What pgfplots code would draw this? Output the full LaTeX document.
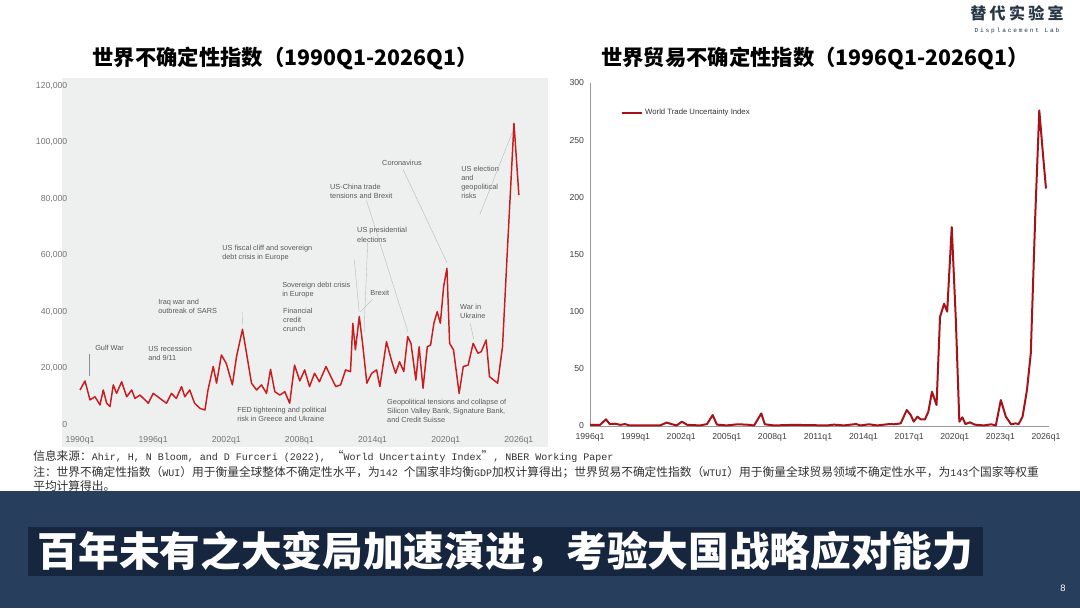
\documentclass[border=0pt]{standalone}
\usepackage{fontspec}
\setmainfont{Liberation Sans}
\setmonofont{Liberation Mono}
\newfontfamily\cjk{Noto Sans CJK SC}
\usepackage{pgfplots}
\pgfplotsset{compat=1.18}
\definecolor{band}{RGB}{39,62,92}
\definecolor{bandbox}{RGB}{22,38,62}
\definecolor{leftbg}{RGB}{238,240,240}
\definecolor{wuired}{RGB}{200,28,30}
\definecolor{wtured}{RGB}{165,18,24}
\definecolor{logo}{RGB}{40,55,70}
\definecolor{notec}{RGB}{50,50,50}
\newcommand\C[1]{{\cjk\fontsize{8.8}{10}\selectfont #1}}
\pgfplotstableread{
x y
1990.00 12400
1990.41 15600
1990.82 8900
1991.23 10000
1991.64 7100
1991.91 12400
1992.19 7700
1992.46 6500
1992.73 14200
1993.00 11200
1993.42 15300
1993.83 10000
1994.24 12400
1994.51 9400
1994.92 10600
1995.33 8900
1995.60 7700
1996.01 11200
1996.56 9400
1997.10 7700
1997.50 11200
1997.90 9400
1998.33 13600
1998.60 10000
1999.00 12400
1999.40 7700
1999.84 5900
2000.25 5300
2000.50 12400
2000.93 20700
2001.20 14800
2001.60 24800
2002.00 21800
2002.50 14200
2002.84 24200
2003.33 33900
2003.66 25400
2004.07 14800
2004.48 12400
2004.89 14200
2005.30 11200
2005.63 19700
2005.98 11800
2006.39 10600
2006.80 11800
2007.20 7700
2007.60 21200
2008.03 15600
2008.43 19500
2008.83 13600
2009.24 18300
2009.64 15300
2010.18 20700
2010.58 17100
2010.98 13600
2011.38 14200
2011.79 19500
2012.19 18900
2012.38 36000
2012.59 26600
2012.91 38400
2013.18 28900
2013.53 14800
2013.93 18300
2014.33 19500
2014.60 13600
2015.14 29500
2015.54 23000
2015.89 18300
2016.21 22400
2016.56 18900
2016.88 31300
2017.15 28900
2017.55 15900
2017.82 27700
2018.14 13000
2018.49 27700
2018.76 28300
2019.03 36000
2019.30 40100
2019.56 36000
2019.83 49000
2020.10 55500
2020.32 28900
2020.64 26600
2021.10 11200
2021.44 20700
2021.84 21200
2022.25 28900
2022.65 25400
2022.92 26000
2023.32 30100
2023.59 17100
2024.26 14800
2024.66 27700
2025.06 62000
2025.60 106800
2026.00 81400
}\wui
\pgfplotstableread{
x y
1996.00 1
1996.66 1
1997.05 5.8
1997.30 1.7
1997.65 2
1998.00 1
1998.30 1.7
1998.60 0.5
2000.60 0.5
2001.05 3
2001.40 1.5
2001.70 0.5
2002.05 3.8
2002.40 1
2003.25 0.5
2003.70 1.7
2004.07 9.6
2004.35 1.2
2005.00 0.5
2005.70 1.5
2006.30 1.2
2006.80 0.5
2007.27 11
2007.50 1.5
2008.10 0.5
2009.40 1
2011.60 0.5
2012.05 1.2
2012.70 0.5
2013.50 1.7
2013.80 0.5
2014.35 1.5
2014.90 0.5
2015.70 1.7
2016.00 1.5
2016.44 2.3
2016.84 14
2017.10 9.6
2017.30 3.8
2017.54 8.2
2017.76 5.8
2018.04 5.8
2018.26 12.5
2018.50 30
2018.80 18.4
2019.03 95.5
2019.30 107
2019.50 100
2019.80 174
2020.07 92.6
2020.30 3.8
2020.50 7.6
2020.70 1.7
2021.00 3.2
2021.30 1.2
2021.90 0.5
2022.40 1.5
2022.70 0.5
2023.03 22.7
2023.36 8.2
2023.70 1.5
2024.00 2.3
2024.20 1.7
2024.46 8.2
2024.75 31.5
2025.00 63.5
2025.30 186
2025.56 276
2025.80 238
2026.00 207.7
}\wtui
\begin{document}
\begin{tikzpicture}[
  anno/.style={font=\fontsize{5.5}{6.8}\selectfont, text=black!65, inner sep=0pt, anchor=west, align=left},
  lead/.style={black!28, line width=0.3pt}]
\begin{scope}[x=0.75pt,y=0.75pt]
\path[use as bounding box, fill=white] (0,0) rectangle (1080,608);
% logo
\node[text=logo, inner sep=0pt] at (1017,595) {\cjk\bfseries\fontsize{12}{12}\selectfont 替\hspace{2.5pt}代\hspace{2.5pt}实\hspace{2.5pt}验\hspace{2.5pt}室};
\node[text=logo, inner sep=0pt] at (1017,577) {\ttfamily\fontsize{4.6}{5}\selectfont\addfontfeatures{LetterSpace=30}Displacement Lab};
% titles
\node[inner sep=0pt] at (285,550) {\cjk\bfseries\fontsize{16}{16}\selectfont 世界不确定性指数（1990Q1-2026Q1）};
\node[inner sep=0pt] at (815,550) {\cjk\bfseries\fontsize{16}{16}\selectfont 世界贸易不确定性指数（1996Q1-2026Q1）};
% left background
\fill[leftbg] (62,161) rectangle (548,530);
\end{scope}
\begin{axis}[at={(54pt,133.5pt)}, anchor=south west, scale only axis,
  width=343.5pt, height=262.5pt,
  xmin=1989.344, xmax=2026.915, ymin=-1770, ymax=122124,
  axis line style={draw=none}, major tick length=0pt,
  xtick={1990,1996,2002,2008,2014,2020,2026},
  xticklabels={1990q1,1996q1,2002q1,2008q1,2014q1,2020q1,2026q1},
  ytick={0,20000,40000,60000,80000,100000,120000},
  yticklabels={0,{20,000},{40,000},{60,000},{80,000},{100,000},{120,000}},
  scaled y ticks=false,
  tick label style={font=\fontsize{6.5}{7}\selectfont, text=black!55},
  xticklabel style={yshift=-1pt},
  clip=false]
\draw[lead] (axis cs:2003.3,40000) -- (axis cs:2003.33,35500);
\draw[lead] (axis cs:2012.5,58500) -- (axis cs:2012.9,40000);
\draw[lead] (axis cs:2014.0,44500) -- (axis cs:2013.0,40000);
\draw[lead] (axis cs:2013.5,79500) -- (axis cs:2016.9,33000);
\draw[lead] (axis cs:2013.6,64500) -- (axis cs:2013.3,33000);
\draw[lead] (axis cs:2016.5,90500) -- (axis cs:2020.1,57500);
\draw[lead] (axis cs:2022.8,74500) -- (axis cs:2025.5,104000);
\draw[lead] (axis cs:2022.0,36000) -- (axis cs:2022.3,30500);
\addplot[wuired, line width=1.1pt, line join=round] table[x=x,y=y] {\wui};
\node[anno] at (axis cs:1991.23,27300) {Gulf War};
\draw[black!45, line width=0.3pt] (axis cs:1990.75,25000) -- (axis cs:1990.75,17500);
\node[anno] at (axis cs:1995.58,25500) {US recession\\and 9/11};
\node[anno] at (axis cs:1996.4,42100) {Iraq war and\\outbreak of SARS};
\node[anno] at (axis cs:2001.65,60700) {US fiscal cliff and sovereign\\debt crisis in Europe};
\node[anno] at (axis cs:2006.57,47800) {Sovereign debt crisis\\in Europe};
\node[anno] at (axis cs:2006.65,37200) {Financial\\credit\\crunch};
\node[anno] at (axis cs:2002.88,3900) {FED tightening and political\\risk in Greece and Ukraine};
\node[anno] at (axis cs:2013.8,46700) {Brexit};
\node[anno] at (axis cs:2012.72,67300) {US presidential\\elections};
\node[anno] at (axis cs:2010.5,82800) {US-China trade\\tensions and Brexit};
\node[anno] at (axis cs:2014.77,92700) {Coronavirus};
\node[anno] at (axis cs:2021.26,85800) {US election\\and\\geopolitical\\risks};
\node[anno] at (axis cs:2021.17,40200) {War in\\Ukraine};
\node[anno] at (axis cs:2015.18,5000) {Geopolitical tensions and collapse of\\Silicon Valley Bank, Signature Bank,\\and Credit Suisse};
\end{axis}
% right chart
\begin{axis}[at={(442.5pt,136.5pt)}, anchor=south west, scale only axis,
  width=344.25pt, height=257.25pt,
  xmin=1996, xmax=2026.2, ymin=0, ymax=300,
  axis x line=bottom, axis y line=left,
  axis line style={black!40, -, line width=0.5pt}, major tick length=0pt,
  xtick={1996,1999,2002,2005,2008,2011,2014,2017,2020,2023,2026},
  xticklabels={1996q1,1999q1,2002q1,2005q1,2008q1,2011q1,2014q1,2017q1,2020q1,2023q1,2026q1},
  ytick={0,50,100,150,200,250,300},
  yticklabels={0,50,100,150,200,250,300},
  tick label style={font=\fontsize{6.5}{7}\selectfont, text=black!75},
  xticklabel style={yshift=-2pt},
  yticklabel style={xshift=-1pt},
  clip=false,
  legend style={at={(0.066,0.912)}, anchor=west, draw=none, fill=none,
    font=\fontsize{5.8}{7}\selectfont, inner sep=0pt, text=black!80},
  legend image code/.code={\draw[#1] (0pt,0pt) -- (15pt,0pt);},
  legend cell align=left]
\addplot[wtured, line width=1.5pt, line join=round] table[x=x,y=y] {\wtui};
\addlegendentry{World Trade Uncertainty Index}
\end{axis}
\begin{scope}[x=0.75pt,y=0.75pt]
% footnotes
\node[anchor=west, inner sep=0pt, text=notec] at (33,151) {\ttfamily\fontsize{7.5}{10}\selectfont\C{信息来源：}Ahir, H, N Bloom, and D Furceri (2022), \C{“}World Uncertainty Index\C{”}, NBER Working Paper};
\node[anchor=west, inner sep=0pt, text=notec] at (33,136) {\ttfamily\fontsize{7.5}{10}\selectfont\C{注：世界不确定性指数（}WUI\C{）用于衡量全球整体不确定性水平，为}142 \C{个国家非均衡}GDP\C{加权计算得出；世界贸易不确定性指数（}WTUI\C{）用于衡量全球贸易领域不确定性水平，为}143\C{个国家等权重}};
\node[anchor=west, inner sep=0pt, text=notec] at (33,122) {\C{平均计算得出。}};
% bottom band
\fill[band] (0,0) rectangle (1080,117);
\fill[bandbox] (28,32) rectangle (983,81);
\node[text=white, inner sep=0pt] at (505.5,56.5) {\cjk\bfseries\fontsize{30.5}{31}\selectfont 百年未有之大变局加速演进，考验大国战略应对能力};
\node[text=white, inner sep=0pt] at (1063,20) {\fontsize{7}{8}\selectfont 8};
\end{scope}
\end{tikzpicture}
\end{document}
